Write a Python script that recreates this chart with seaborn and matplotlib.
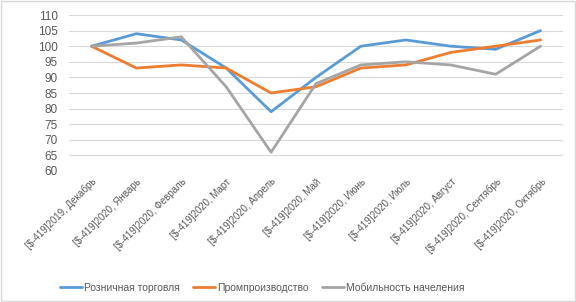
import pandas as pd
import matplotlib.pyplot as plt
import seaborn as sns

months = ["[$-419]2019, Декабрь", "[$-419]2020, Январь", "[$-419]2020, Февраль",
          "[$-419]2020, Март", "[$-419]2020, Апрель", "[$-419]2020, Май",
          "[$-419]2020, Июнь", "[$-419]2020, Июль", "[$-419]2020, Август",
          "[$-419]2020, Сентябрь", "[$-419]2020, Октябрь"]
retail = [100, 104, 102, 93, 79, 90, 100, 102, 100, 99, 105]
industry = [100, 93, 94, 93, 85, 87, 93, 94, 98, 100, 102]
mobility = [100, 101, 103, 87, 66, 88, 94, 95, 94, 91, 100]
series_names = ["Розничная торговля", "Промпроизводство", "Мобильность начеления"]
colors = ["#5B9BD5", "#ED7D31", "#A5A5A5"]

sns.set_theme(style="white")
plt.rcParams['font.family'] = ['Liberation Sans', 'DejaVu Sans']

rows = []
for name, vals in zip(series_names, [retail, industry, mobility]):
    for i, v in enumerate(vals):
        rows.append({"idx": i, "value": v, "series": name})
df = pd.DataFrame(rows)

fig = plt.figure(figsize=(5.76, 3.02), dpi=100)
ax = fig.add_axes([69 / 576, 1 - 171 / 302, (563 - 69) / 576, (171 - 15) / 302])

sns.lineplot(data=df, x="idx", y="value", hue="series", palette=colors,
             linewidth=2.0, ax=ax, legend=True)

ax.set_xlim(-0.5, len(months) - 0.5)
ax.set_ylim(60, 110)
ax.set_yticks(range(60, 111, 5))
ax.yaxis.grid(True, color="#D9D9D9", linewidth=0.8)
ax.set_axisbelow(True)
for s in ax.spines.values():
    s.set_visible(False)
ax.set_xticks(range(len(months)))
ax.set_xticklabels(months, rotation=45, ha="right", rotation_mode="anchor",
                   fontsize=7, color="#595959")
ax.tick_params(axis="y", labelsize=8.5, labelcolor="#595959", length=0, pad=8)
ax.tick_params(axis="x", length=0, pad=4)
ax.set_xlabel("")
ax.set_ylabel("")

handles, labels = ax.get_legend_handles_labels()
ax.legend(handles, labels, loc="center", bbox_to_anchor=(262 / 576, 0.048),
          bbox_transform=fig.transFigure, ncol=3, frameon=False,
          fontsize=7.5, labelcolor="#595959", handlelength=2.1,
          handletextpad=0.2, columnspacing=1.3)

fig.patches.append(plt.Rectangle((0.002, 0.003), 0.996, 0.994, transform=fig.transFigure,
                                 fill=False, edgecolor="#D9D9D9", linewidth=1))

fig.savefig("out.png", dpi=100)
